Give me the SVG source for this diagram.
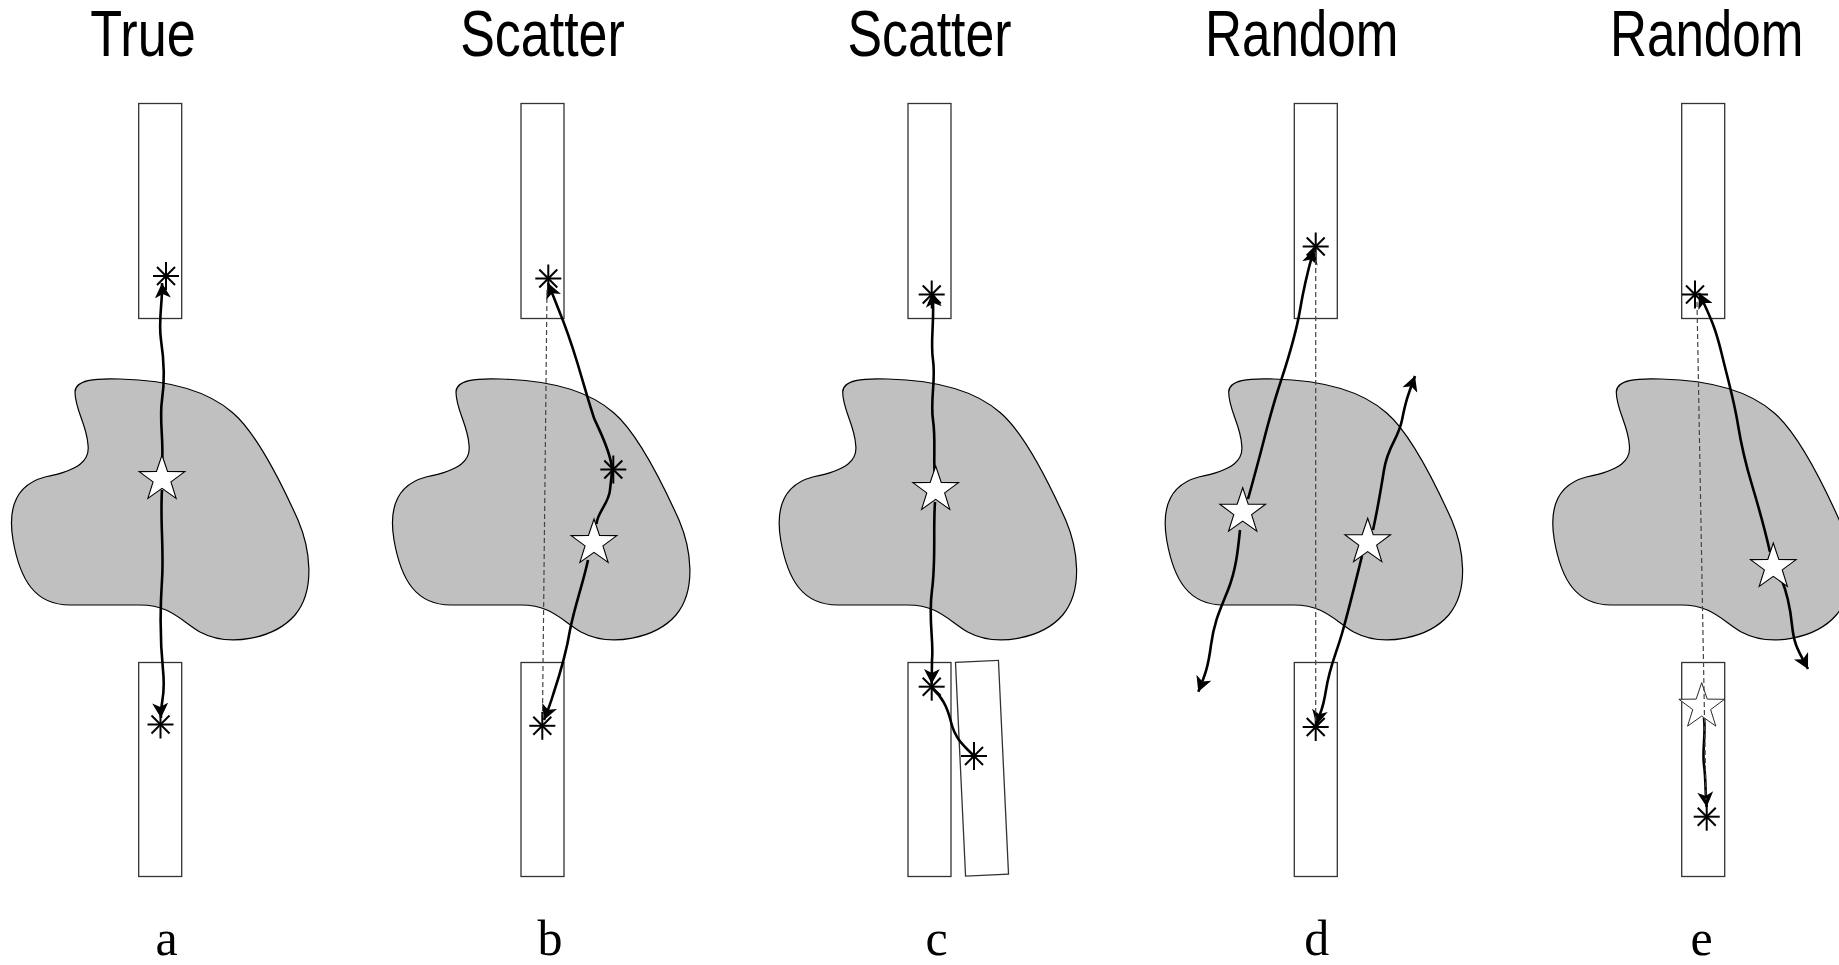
<svg xmlns="http://www.w3.org/2000/svg" width="1839" height="965" viewBox="0 0 1839 965">
<style>
.title{font-family:"Liberation Sans",Arial,sans-serif;font-size:64px;fill:#000}
.lab{font-family:"Liberation Serif","Times New Roman",serif;font-size:50px;fill:#000}
.box{fill:#fff;stroke:#333;stroke-width:1.3}
.blob{fill:#c0c0c0;stroke:#000;stroke-width:1.2}
.star{fill:#fff;stroke:#000;stroke-width:1.1}
.ghost{fill:#fff;stroke:#111;stroke-width:0.9}
.ast{stroke:#000;stroke-width:2;fill:none}
.ray{fill:none;stroke:#000;stroke-width:2.6}
.dash{fill:none;stroke:#444;stroke-width:1.2;stroke-dasharray:5 3}
</style>
<defs>
<path id="blobShape" d="M75,392 C75,380 95,378 120,379 C160,380 205,388 233,413 C255,432 280,480 298,520 C310,548 316,590 295,615 C275,638 230,648 200,632 C180,620 170,605 140,605 L70,605 C35,605 20,580 13,540 C8,510 15,485 45,477 C80,470 90,460 88,445 C87,425 75,410 75,392 Z"/>
<path id="starShape" d="M0,-24 L5.53,-7.6 L22.83,-7.42 L8.94,2.9 L14.11,19.42 L0,9.4 L-14.11,19.42 L-8.94,2.9 L-22.83,-7.42 L-5.53,-7.6 Z"/>
<g id="astShape"><line x1="-13" y1="0" x2="13" y2="0"/><line x1="0" y1="-14" x2="0" y2="14"/><line x1="-9" y1="-9" x2="9" y2="9"/><line x1="-9" y1="9" x2="9" y2="-9"/></g>
<marker id="arr" viewBox="0 0 15 16" refX="15" refY="8" markerWidth="15" markerHeight="16" markerUnits="userSpaceOnUse" orient="auto"><path d="M0,0 L15,8 L0,16 L4,8 Z" fill="#000"/></marker>
</defs>

<g id="titles">
<text class="title" transform="translate(143,56) scale(0.815,1)" text-anchor="middle">True</text>
<text class="title" transform="translate(542.5,56) scale(0.812,1)" text-anchor="middle">Scatter</text>
<text class="title" transform="translate(929.5,56) scale(0.81,1)" text-anchor="middle">Scatter</text>
<text class="title" transform="translate(1301.7,56) scale(0.8,1)" text-anchor="middle">Random</text>
<text class="title" transform="translate(1706.7,56) scale(0.8,1)" text-anchor="middle">Random</text>
</g>

<g id="labels">
<text class="lab" x="166.7" y="955" text-anchor="middle">a</text>
<text class="lab" x="550" y="955" text-anchor="middle">b</text>
<text class="lab" x="936.7" y="955" text-anchor="middle">c</text>
<text class="lab" x="1316.7" y="955" text-anchor="middle">d</text>
<text class="lab" x="1701.7" y="955" text-anchor="middle">e</text>
</g>

<g id="panel-a">
<use href="#blobShape" class="blob"/>
<rect class="box" x="138.7" y="103.5" width="43" height="215"/>
<rect class="box" x="138.7" y="662.5" width="43" height="214"/>
</g>
<g id="panel-b">
<use href="#blobShape" class="blob" transform="translate(381,0)"/>
<rect class="box" x="521" y="103.5" width="43" height="215"/>
<rect class="box" x="521" y="662.5" width="43" height="214"/>
</g>
<g id="panel-c">
<use href="#blobShape" class="blob" transform="translate(767.7,0)"/>
<rect class="box" x="908" y="103.5" width="43" height="215"/>
<rect class="box" x="908" y="662.5" width="43" height="214"/>
<rect class="box" x="-21.5" y="-107" width="43" height="214" transform="translate(982,768.2) rotate(-2.7)"/>
</g>
<g id="panel-d">
<use href="#blobShape" class="blob" transform="translate(1153.7,0)"/>
<rect class="box" x="1294.3" y="103.5" width="43" height="215"/>
<rect class="box" x="1294.3" y="662.5" width="43" height="214"/>
</g>
<g id="panel-e">
<use href="#blobShape" class="blob" transform="translate(1541.3,0)"/>
<rect class="box" x="1681.7" y="103.5" width="43" height="215"/>
<rect class="box" x="1681.7" y="662.5" width="43" height="214"/>
</g>

<g id="connectors">
<path class="ray" marker-end="url(#arr)" d="M162,466 C164,440 159,420 162,400 S164,360 161,340 S163,300 162,283"/>
<path class="ray" marker-end="url(#arr)" d="M162,490 C160,520 164,550 162,580 S160,640 163,670 S160,700 161,718"/>

<path class="ray" marker-end="url(#arr)" d="M596.5,524 C597,513 609,503 610,490 C611,480 612,475 612,468 C610,450 600,432 594,418 C588,400 584,385 578,365 C572,345 565,325 558,308 C555,300 552,293 548,283"/>
<path class="ray" marker-end="url(#arr)" d="M588,560 C584,580 575,605 570,630 C566,655 558,680 553,695 C550,705 548,710 544,720"/>

<path class="ray" marker-end="url(#arr)" d="M935,478 C933,460 936,440 933,420 S936,380 933,360 S935,320 932.5,292"/>
<path class="ray" marker-end="url(#arr)" d="M935,502 C933,530 936,560 932,590 S934,640 932,660 L931.7,684"/>
<path class="ray" d="M932,688 C942,697 947,706 951,722 S962,744 974,756"/>

<path class="ray" marker-end="url(#arr)" d="M1248,499 C1252,485 1256,470 1260,455 S1270,415 1278,390 S1295,340 1300,310 S1308,270 1314,249"/>
<path class="ray" marker-end="url(#arr)" d="M1240,530 C1238,550 1236,570 1228,590 S1214,622 1211,645 S1205,675 1198.3,691.7"/>
<path class="ray" marker-end="url(#arr)" d="M1373,530 C1377,512 1380,495 1384,470 S1398,440 1402,420 S1408,395 1415,376"/>
<path class="ray" marker-end="url(#arr)" d="M1362,556 C1356,580 1350,605 1343,630 S1330,665 1326,690 S1320,710 1316.7,725"/>

<path class="ray" marker-end="url(#arr)" d="M1770,552 C1765,530 1758,505 1752,485 S1742,450 1738,425 S1728,380 1722,355 S1712,320 1699,293"/>
<path class="ray" marker-end="url(#arr)" d="M1781,578 C1786,590 1790,605 1792,625 S1798,650 1808,669"/>
<path class="ray" marker-end="url(#arr)" d="M1704,718 C1706,735 1702,750 1704,765 S1705,790 1706.7,807"/>
</g>

<g id="markers">
<use href="#starShape" class="star" x="162" y="479"/>
<use href="#starShape" class="star" x="594" y="543"/>
<use href="#starShape" class="star" x="935.7" y="490"/>
<use href="#starShape" class="star" x="1242.7" y="511.7"/>
<use href="#starShape" class="star" x="1367.7" y="542.2"/>
<use href="#starShape" class="star" x="1773.3" y="567"/>
<use href="#starShape" class="ghost" x="1701.7" y="706.7"/>
<g class="ast">
<use href="#astShape" x="166" y="276"/>
<use href="#astShape" x="160.5" y="724.5"/>
<use href="#astShape" x="548.3" y="278.5"/>
<use href="#astShape" x="613.3" y="469.5"/>
<use href="#astShape" x="542.3" y="725.8"/>
<use href="#astShape" x="931.7" y="294.5"/>
<use href="#astShape" x="931.7" y="686.7"/>
<use href="#astShape" x="974" y="756"/>
<use href="#astShape" x="1315.7" y="246.5"/>
<use href="#astShape" x="1315.7" y="727"/>
<use href="#astShape" x="1695" y="294.5"/>
<use href="#astShape" x="1706.7" y="816.7"/>
</g>
</g>

<g id="dashed-connectors">
<path class="dash" d="M547,290 L542.5,715"/>
<path class="dash" d="M1315.7,252 L1315.7,721"/>
<path class="dash" d="M1697,302 L1706,800"/>
</g>
</svg>
